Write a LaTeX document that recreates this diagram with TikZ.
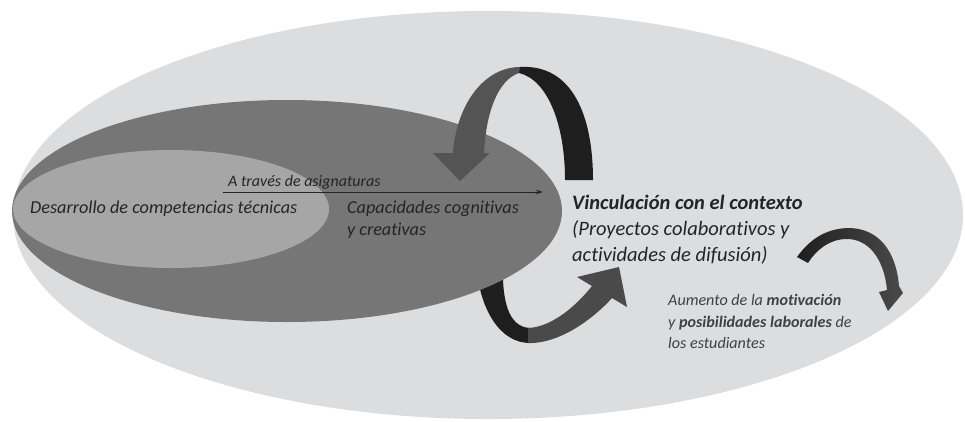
\documentclass[tikz,border=0pt]{standalone}
\usepackage{fontspec}
\setmainfont{Carlito}[Ligatures=NoCommon]
\usetikzlibrary{arrows.meta}
\definecolor{outerc}{RGB}{220,221,223}
\definecolor{midc}{RGB}{118,118,118}
\definecolor{innerc}{RGB}{166,166,166}
\definecolor{arrgray}{RGB}{84,84,84}
\definecolor{arrgrayb}{RGB}{74,74,74}
\definecolor{arrblack}{RGB}{30,30,30}
\definecolor{txt}{RGB}{36,36,36}
\definecolor{txtsoft}{RGB}{64,64,64}
\tikzset{
  lbl/.style={anchor=base west, inner sep=0pt, text=txt},
  smalltxt/.style={lbl, font=\fontsize{16}{18}\selectfont\itshape},
  midtxt/.style={lbl, font=\fontsize{18.2}{22}\selectfont\itshape},
  bigtxt/.style={lbl, font=\fontsize{20.5}{24}\selectfont\itshape},
  endtxt/.style={lbl, text=txtsoft, font=\fontsize{16.1}{20}\selectfont\itshape},
  thinarrow/.style={draw=txt, line width=0.9pt, -{Stealth[length=7pt,width=4.5pt]}}
}
\begin{document}
\begin{tikzpicture}[x=1pt,y=-1pt]
\useasboundingbox (0,0) rectangle (965,421);
\fill[white] (0,0) rectangle (965,421);
% outer ellipse
\fill[outerc] (488,215) ellipse [x radius=475pt, y radius=204pt];
% lower arrow (partly under the middle ellipse)
\fill[arrblack] (476,265) .. controls (480,310) and (500,343) .. (530,343)
  -- (530,328) .. controls (508,327) and (502,300) .. (503,265) -- cycle;
\fill[arrgrayb] (528,343) .. controls (560,344) and (594,318) .. (612,298)
  -- (627,307) -- (619,267) -- (577,277) -- (592,286)
  .. controls (576,306) and (552,327) .. (528,328) -- cycle;
% middle ellipse
\fill[midc] (287,211) ellipse [x radius=275pt, y radius=111pt];
% inner ellipse
\fill[innerc] (171,209) ellipse [x radius=158pt, y radius=59pt];
% top arrow
\fill[arrgray] (522,67) .. controls (482,66) and (456,108) .. (453,153)
  -- (433,153) -- (460,181) -- (490,153) -- (484,153)
  .. controls (486,112) and (498,80) .. (519,73) -- cycle;
\fill[arrblack] (520,67) .. controls (572,64) and (593,115) .. (593,180)
  -- (565,180) .. controls (565,125) and (548,80) .. (519,73) -- cycle;
% small right arrow
\shade[left color=arrblack, right color=arrgrayb]
  (797,257) .. controls (812,236) and (830,228) .. (850,228)
  .. controls (878,229) and (896,250) .. (899,286)
  -- (903,293) -- (888,311) -- (879,292) -- (887,290)
  .. controls (884,258) and (868,239) .. (847,239)
  .. controls (830,239) and (817,249) .. (808,263) -- cycle;
% thin arrow
\coordinate (asigstart) at (223,192);
\coordinate (asigend) at (543,192);
\draw[thinarrow] (asigstart) -- (asigend);
% texts
\node[smalltxt] (asig) at (228,186) {A través de asignaturas};
\node[midtxt] (desa) at (30,213) {Desarrollo de competencias técnicas};
\node[midtxt] (cap1) at (347,213) {Capacidades cognitivas};
\node[midtxt] (cap2) at (347,235) {y creativas};
\node[bigtxt] (vin1) at (572,209) {\bfseries Vinculación con el contexto};
\node[bigtxt] (vin2) at (572,235) {(Proyectos colaborativos y};
\node[bigtxt] (vin3) at (572,261) {actividades de difusión)};
\node[endtxt] (aum1) at (668,305) {Aumento de la \textbf{motivación}};
\node[endtxt] (aum2) at (668,327) {y \textbf{posibilidades laborales} de};
\node[endtxt] (aum3) at (668,348) {los estudiantes};
\end{tikzpicture}
\end{document}
